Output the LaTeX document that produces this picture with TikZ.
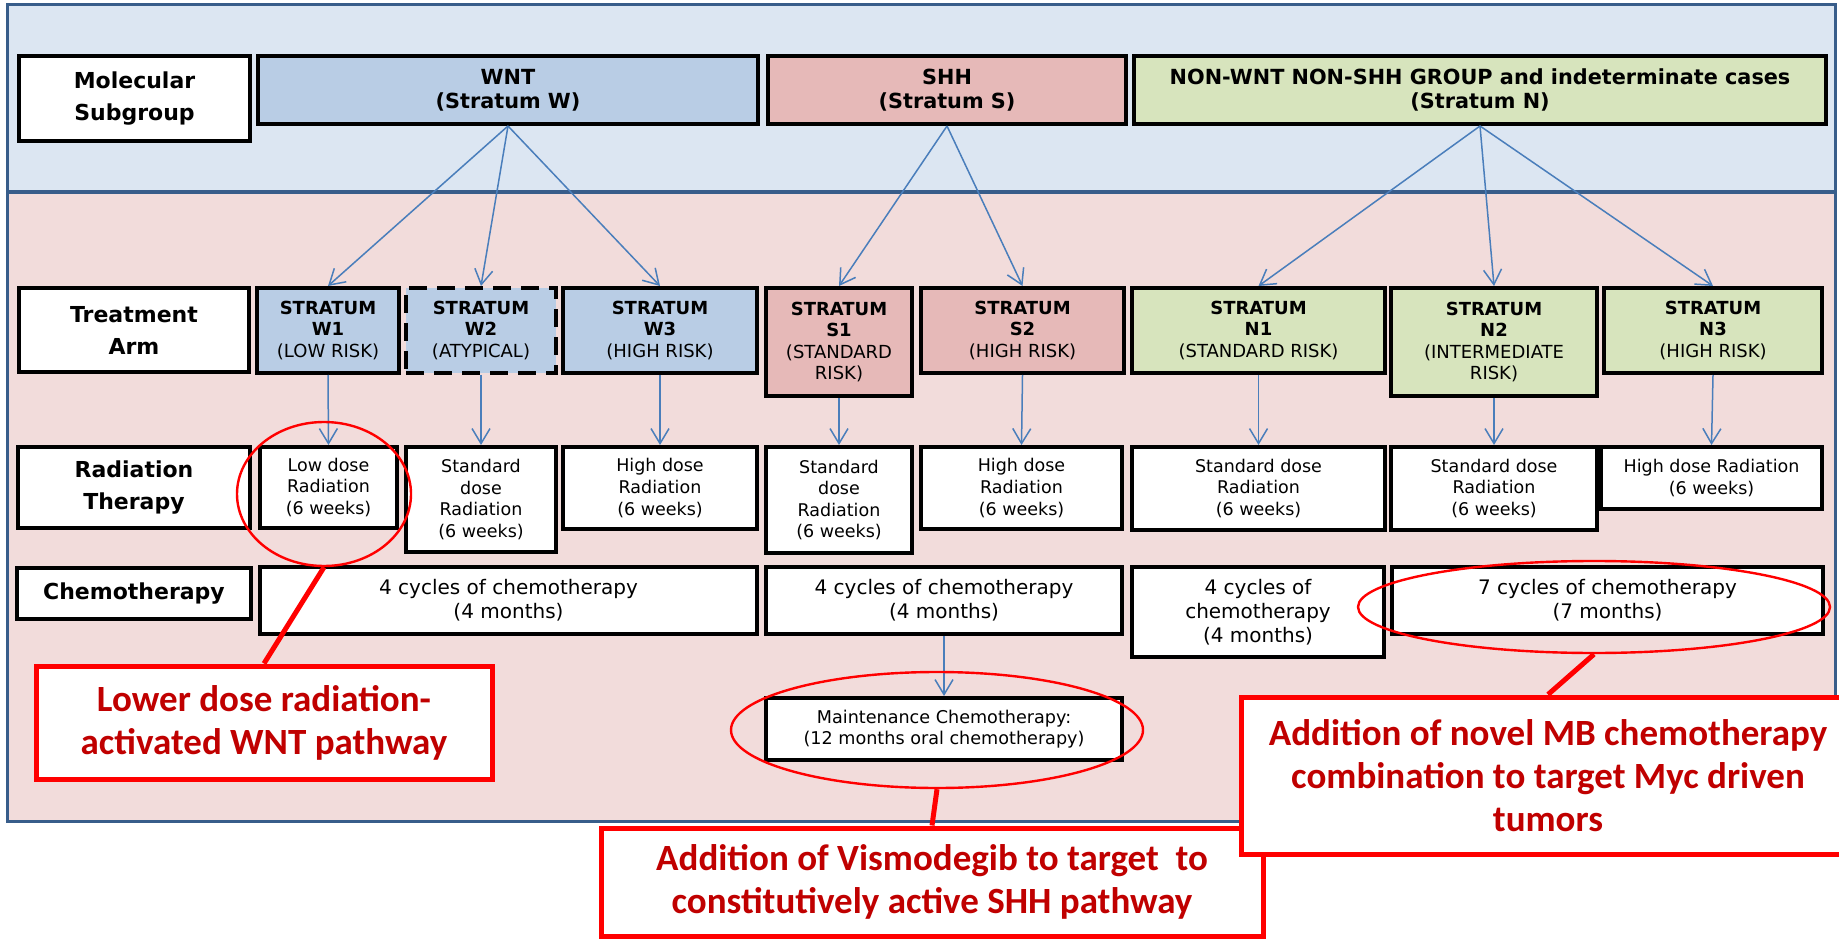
\documentclass[tikz,border=0pt]{standalone}
\usepackage{fontspec}
\setmainfont{DejaVu Sans}
\newfontfamily\notefont{Carlito}
\usepackage{tikz}
\usetikzlibrary{arrows.meta,shapes.geometric}
\definecolor{mbframe}{HTML}{385D8A}
\definecolor{mbtop}{HTML}{DCE6F2}
\definecolor{mbbottom}{HTML}{F2DCDB}
\definecolor{mbwnt}{HTML}{B9CDE5}
\definecolor{mbshh}{HTML}{E6B9B8}
\definecolor{mbnon}{HTML}{D7E4BD}
\definecolor{mbarrow}{HTML}{4A7EBB}
\definecolor{mbred}{HTML}{FF0000}
\definecolor{mbdark}{HTML}{C00000}
\tikzset{sz/.style 2 args={minimum width=#1*0.5pt, minimum height=#2*0.5pt}}

\begin{document}
\begin{tikzpicture}[x=0.5pt, y=-0.5pt,
    box/.style={draw=black, line width=2pt, inner sep=0pt, align=center},
    lbl/.style={box, fill=white, font=\bfseries\fontsize{11}{16}\selectfont},
    grp/.style={box, font=\bfseries\fontsize{10.4}{12}\selectfont},
    arm/.style={box, font=\fontsize{9}{10.8}\selectfont},
    rt/.style={box, fill=white, font=\fontsize{8.75}{10.8}\selectfont},
    chemo/.style={box, fill=white, font=\fontsize{10}{12}\selectfont},
    ring/.style={ellipse, draw=mbred, line width=1.2pt, inner sep=0pt},
    note/.style={draw=mbred, line width=2.5pt, fill=white, inner sep=0pt, align=center,
                 text=mbdark, font=\notefont\bfseries\fontsize{18.5}{21.5}\selectfont},
    arr/.style={-{Straight Barb[length=7.5pt, width=9pt]}, line width=0.75pt, mbarrow},
    lead/.style={mbred, line width=2.5pt}]
  \useasboundingbox (0,0) rectangle (1839,940);
  % two bands: subgroups on top, treatment below
  \fill[mbbottom] (7,192) rectangle (1835,821);
  \fill[mbtop] (7,5) rectangle (1835,192);
  \draw[mbframe, line width=1.5pt] (7,5) rectangle (1835,821);
  \draw[mbframe, line width=1.75pt] (7,192) -- (1835,192);

  % row labels
  \node[lbl, sz={231}{85}] (molec) at (134.5,98.5) {Molecular\\Subgroup};
  \node[lbl, sz={230}{84}] (armlbl) at (134,330) {Treatment\\Arm};
  \node[lbl, sz={232}{81}] (radlbl) at (134,487.5) {Radiation\\Therapy};
  \node[lbl, sz={234}{51}] (chemolbl) at (134,593.5) {Chemotherapy};

  % molecular subgroups
  \node[grp, fill=mbwnt, sz={500}{68}] (wnt) at (508,90) {WNT\\(Stratum W)};
  \node[grp, fill=mbshh, sz={358}{68}] (shh) at (947,90) {SHH\\(Stratum S)};
  \node[grp, fill=mbnon, sz={692}{68}] (non) at (1480,90) {NON-WNT NON-SHH GROUP and indeterminate cases\\(Stratum N)};

  % treatment arms
  \node[arm, fill=mbwnt, sz={142}{85}] (w1) at (328,330.5) {\textbf{STRATUM}\\\textbf{W1}\\(LOW RISK)};
  \node[arm, fill=mbwnt, dash pattern=on 9pt off 5pt, sz={150}{85}] (w2) at (481,330.5) {\textbf{STRATUM}\\\textbf{W2}\\(ATYPICAL)};
  \node[arm, fill=mbwnt, sz={194}{85}] (w3) at (660,330.5) {\textbf{STRATUM}\\\textbf{W3}\\(HIGH RISK)};
  \node[arm, fill=mbshh, sz={146}{108}] (s1) at (839,342) {\textbf{STRATUM}\\\textbf{S1}\\(STANDARD\\RISK)};
  \node[arm, fill=mbshh, sz={203}{85}] (s2) at (1022.5,330.5) {\textbf{STRATUM}\\\textbf{S2}\\(HIGH RISK)};
  \node[arm, fill=mbnon, sz={253}{85}] (n1) at (1258.5,330.5) {\textbf{STRATUM}\\\textbf{N1}\\(STANDARD RISK)};
  \node[arm, fill=mbnon, sz={206}{108}] (n2) at (1494,342) {\textbf{STRATUM}\\\textbf{N2}\\(INTERMEDIATE\\RISK)};
  \node[arm, fill=mbnon, sz={218}{85}] (n3) at (1713,330.5) {\textbf{STRATUM}\\\textbf{N3}\\(HIGH RISK)};

  % radiation
  \node[rt, sz={137}{81}] (r1) at (328.5,487.5) {Low dose\\Radiation\\(6 weeks)};
  \node[rt, sz={150}{105}] (r2) at (481,499.5) {Standard\\dose\\Radiation\\(6 weeks)};
  \node[rt, sz={194}{82}] (r3) at (660,488) {High dose\\Radiation\\(6 weeks)};
  \node[rt, sz={146}{106}] (r4) at (839,500) {Standard\\dose\\Radiation\\(6 weeks)};
  \node[rt, sz={201}{82}] (r5) at (1021.5,488) {High dose\\Radiation\\(6 weeks)};
  \node[rt, sz={253}{83}] (r6) at (1258.5,488.5) {Standard dose\\Radiation\\(6 weeks)};
  \node[rt, sz={206}{83}] (r7) at (1494,488.5) {Standard dose\\Radiation\\(6 weeks)};
  \node[rt, sz={221}{62}] (r8) at (1711.5,478) {High dose Radiation\\(6 weeks)};

  % chemotherapy
  \node[chemo, sz={497}{67}] (cw) at (508.5,600.5) {4 cycles of chemotherapy\\(4 months)};
  \node[chemo, sz={356}{67}] (cs) at (944,600.5) {4 cycles of chemotherapy\\(4 months)};
  \node[chemo, sz={252}{90}] (cn1) at (1258,612) {4 cycles of\\chemotherapy\\(4 months)};
  \node[chemo, sz={431}{67}] (cn2) at (1607.5,600.5) {7 cycles of chemotherapy\\(7 months)};
  \node[rt, sz={356}{62}, font=\fontsize{8.8}{10.8}\selectfont] (maint) at (944,729) {Maintenance Chemotherapy:\\(12 months oral chemotherapy)};

  \foreach \t in {w1,w2,w3} \draw[arr] (wnt.south) -- (\t.north);
  \foreach \t in {s1,s2} \draw[arr] (shh.south) -- (\t.north);
  \foreach \t in {n1,n2,n3} \draw[arr] (non.south) -- (\t.north);
  \foreach \a/\b in {w1/r1,w2/r2,w3/r3,s1/r4,s2/r5,n1/r6,n2/r7,n3/r8}
    \draw[arr] (\a.south) -- (\b.north);
  \draw[arr] (cs.south) -- (maint.north);

  % highlighted changes
  \node[ring, sz={174}{144}] (hlw) at (324,494) {};
  \node[ring, sz={412}{116}] (hls) at (937,730) {};
  \node[ring, sz={472}{92}] (hln) at (1594,607) {};
  \node[note, sz={456}{113}] (fxw) at (264,722.5) {Lower dose radiation-\\activated WNT pathway};
  \node[note, sz={662}{108}] (fxs) at (932,882) {Addition of Vismodegib to target\ \ to\\constitutively active SHH pathway};
  \node[note, sz={614}{157}] (fxn) at (1548,775.5) {Addition of novel MB chemotherapy\\combination to target Myc driven\\tumors};
  \draw[lead] (hlw.south) -- (fxw.north);
  \draw[lead] (hls.south) -- (fxs.north);
  \draw[lead] (hln.south) -- (fxn.north);
\end{tikzpicture}
\end{document}
